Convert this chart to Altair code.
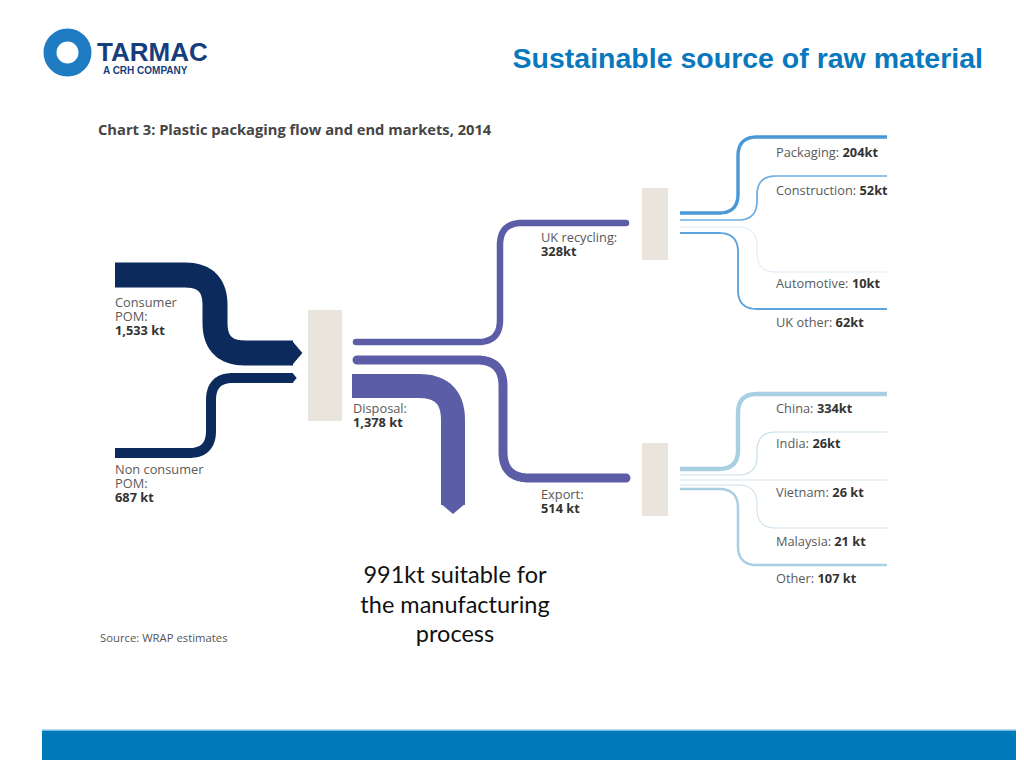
import math
import altair as alt
import numpy as np
import pandas as pd

# ---------------- data ----------------
source_names = ["Consumer POM", "Non consumer POM"]
source_kt = [1533, 687]
source_value_labels = ["1,533 kt", "687 kt"]

stream_names = ["UK recycling", "Export", "Disposal"]
stream_kt = [328, 514, 1378]
stream_value_labels = ["328kt", "514 kt", "1,378 kt"]

uk_market_names = ["Packaging", "Construction", "Automotive", "UK other"]
uk_market_kt = [204, 52, 10, 62]
uk_value_labels = ["204kt", "52kt", "10kt", "62kt"]

export_market_names = ["China", "India", "Vietnam", "Malaysia", "Other"]
export_market_kt = [334, 26, 26, 21, 107]
export_value_labels = ["334kt", "26kt", "26 kt", "21 kt", "107 kt"]

suitable_kt = 991

# ---------------- layout (diagram geometry, page pixels) ----------------
NAVY = "#0d2a5c"
PURPLE = "#5b5ea6"
BEIGE = "#e9e5dc"
LABEL = "#5a5a5a"
BOLD = "#333333"
FONT = "Open Sans"
LSIZE = 12.8

# widths of Open Sans glyphs (units per 2048 em) to place bold value after name
OS_W = {" ": 532, ":": 545, "a": 1139, "b": 1255, "c": 975, "d": 1255, "e": 1149,
        "f": 694, "g": 1122, "h": 1257, "i": 518, "k": 1075, "l": 518, "m": 1905,
        "n": 1257, "o": 1237, "p": 1255, "r": 836, "s": 977, "t": 723, "u": 1257,
        "v": 1026, "y": 1028, "A": 1296, "C": 1292, "I": 586, "K": 1204, "M": 1784,
        "O": 1599, "P": 1219, "U": 1520, "V": 1245}


def text_w(s, size):
    return sum(OS_W.get(ch, 1150) for ch in s) * size / 2048.0


def rounded_path(pts, r, n=16):
    out = [pts[0]]
    for k in range(1, len(pts) - 1):
        ax, ay = pts[k - 1]
        px, py = pts[k]
        bx, by = pts[k + 1]
        l1 = math.hypot(px - ax, py - ay)
        l2 = math.hypot(bx - px, by - py)
        rr = min(r, l1, l2)
        d1 = ((px - ax) / l1, (py - ay) / l1)
        d2 = ((bx - px) / l2, (by - py) / l2)
        p1 = (px - d1[0] * rr, py - d1[1] * rr)
        p2 = (px + d2[0] * rr, py + d2[1] * rr)
        for t in np.linspace(0, 1, n):
            x = (1 - t) ** 2 * p1[0] + 2 * (1 - t) * t * px + t * t * p2[0]
            y = (1 - t) ** 2 * p1[1] + 2 * (1 - t) * t * py + t * t * p2[1]
            out.append((x, y))
    out.append(pts[-1])
    return out


# main flows: route, radius, width, colour
main_routes = {
    "Consumer POM": ([(115, 275), (215, 275), (215, 353), (293, 353)], 30, 25, NAVY),
    "Non consumer POM": ([(115, 453), (211, 453), (211, 378), (293, 378)], 22, 10, NAVY),
    "Disposal": ([(352, 386), (453, 386), (453, 505)], 34, 24, PURPLE),
}
round_routes = {
    "UK recycling": ([(356, 342), (500, 342), (500, 223), (626, 223)], 22, 6.5, PURPLE),
    "Export": ([(357, 360), (503, 360), (503, 478), (626, 478)], 26, 9, PURPLE),
}

FAN_X0, FAN_X1 = 680, 887
uk_fan = {  # start y, vertical x, end y, colour
    "Packaging": (213, 738, 137, "#4a98d6"),
    "Construction": (220, 757, 176, "#6eaee2"),
    "Automotive": (227, 757, 272, "#cfe2f3"),
    "UK other": (233, 738, 309, "#5fa3dc"),
}
export_fan = {
    "China": (469, 738, 394, "#a9cfe3"),
    "India": (475, 757, 432, "#c8dfec"),
    "Vietnam": (480, None, 480, "#d3e6f0"),
    "Malaysia": (485, 757, 528, "#cde2ee"),
    "Other": (489, 738, 565, "#a9cfe3"),
}
uk_label_y = [157, 195, 288, 327]
export_label_y = [413, 448, 497, 546, 583]
LABEL_X = 776


def fan_width(kt):
    return 0.24 * math.sqrt(kt)


butt_rows, round_rows = [], []
for name in source_names + ["Disposal"]:
    pts, r, w, c = main_routes[name]
    for i, (x, y) in enumerate(rounded_path(pts, r)):
        butt_rows.append({"id": name, "i": i, "x": x, "y": y, "w": w, "c": c})
for name in ["UK recycling", "Export"]:
    pts, r, w, c = round_routes[name]
    for i, (x, y) in enumerate(rounded_path(pts, r)):
        round_rows.append({"id": name, "i": i, "x": x, "y": y, "w": w, "c": c})

for names, kts, fan in [(uk_market_names, uk_market_kt, uk_fan),
                        (export_market_names, export_market_kt, export_fan)]:
    for name, kt in zip(names, kts):
        y0, xv, y1, c = fan[name]
        if xv is None:
            pts = [(FAN_X0, y0), (FAN_X1, y1)]
        else:
            pts = [(FAN_X0, y0), (xv, y0), (xv, y1), (FAN_X1, y1)]
        for i, (x, y) in enumerate(rounded_path(pts, 19)):
            butt_rows.append({"id": "fan " + name, "i": i, "x": x, "y": y,
                              "w": fan_width(kt), "c": c})

butt_df = pd.DataFrame(butt_rows)
round_df = pd.DataFrame(round_rows)

XS = alt.Scale(domain=[8, 1016], nice=False, zero=False)
YS = alt.Scale(domain=[8, 760], nice=False, zero=False, reverse=True)


def X(f="x"):
    return alt.X(f"{f}:Q", scale=XS, axis=None)


def Y(f="y"):
    return alt.Y(f"{f}:Q", scale=YS, axis=None)


def line_layer(df, cap):
    return alt.Chart(df).mark_line(strokeCap=cap, strokeJoin="round").encode(
        x=X(), y=Y(), detail="id:N", order="i:Q",
        strokeWidth=alt.StrokeWidth("w:Q", scale=None, legend=None),
        color=alt.Color("c:N", scale=None, legend=None),
    )


# boxes
boxes = pd.DataFrame({
    "x": [308, 642, 642], "x2": [342, 668, 668],
    "y": [310, 188, 443], "y2": [421, 260, 516],
})
box_layer = alt.Chart(boxes).mark_rect(color=BEIGE).encode(
    x=X(), x2="x2:Q", y=Y(), y2="y2:Q")

# bottom band
band = pd.DataFrame({"x": [42, 42], "x2": [1016, 1016], "y": [729.5, 731], "y2": [731, 760],
                     "c": ["#79b8de", "#0079b8"]})
band_layer = alt.Chart(band).mark_rect().encode(
    x=X(), x2="x2:Q", y=Y(), y2="y2:Q", color=alt.Color("c:N", scale=None))

# chevrons
chev_right = pd.DataFrame({"x": [293, 293], "y": [353, 378], "s": [25 ** 2, 10 ** 2]})
chev_down = pd.DataFrame({"x": [453], "y": [505], "s": [24 ** 2]})
chev_r_layer = alt.Chart(chev_right).mark_point(
    filled=True, opacity=1, color=NAVY, shape="M-0.1,-1L0.75,0L-0.1,1Z").encode(
    x=X(), y=Y(), size=alt.Size("s:Q", scale=None))
chev_d_layer = alt.Chart(chev_down).mark_point(
    filled=True, opacity=1, color=PURPLE, shape="M-1,-0.1L0,0.75L1,-0.1Z").encode(
    x=X(), y=Y(), size=alt.Size("s:Q", scale=None))

# logo ring
ring = pd.DataFrame({"x": [67.5], "y": [52.5]})
ring_layer = alt.Chart(ring).mark_point(
    filled=False, opacity=1, color="#1f7cc2", strokeWidth=13, size=35 ** 2, shape="circle"
).encode(x=X(), y=Y())

# ---------------- text ----------------
normal_rows, bold_rows = [], []
normal_rows += [
    {"x": 115, "y": 307, "t": ["Consumer", "POM:"]},
    {"x": 115, "y": 474, "t": ["Non consumer", "POM:"]},
    {"x": 353, "y": 413, "t": ["Disposal:"]},
    {"x": 541, "y": 242, "t": ["UK recycling:"]},
    {"x": 541, "y": 499, "t": ["Export:"]},
]
bold_rows += [
    {"x": 115, "y": 335, "t": source_value_labels[0]},
    {"x": 115, "y": 502, "t": source_value_labels[1]},
    {"x": 353, "y": 427, "t": stream_value_labels[2]},
    {"x": 541, "y": 256, "t": stream_value_labels[0]},
    {"x": 541, "y": 513, "t": stream_value_labels[1]},
]
for names, vals, ys in [(uk_market_names, uk_value_labels, uk_label_y),
                        (export_market_names, export_value_labels, export_label_y)]:
    for name, v, y in zip(names, vals, ys):
        s = name + ": "
        normal_rows.append({"x": LABEL_X, "y": y, "t": [s]})
        bold_rows.append({"x": LABEL_X + text_w(s, LSIZE), "y": y, "t": v})


def text_layer(rows, **kw):
    base = dict(align="left", baseline="alphabetic")
    base.update(kw)
    return alt.Chart(alt.Data(values=rows)).mark_text(**base).encode(
        x=X(), y=Y(), text="t:N")


normal_layer = text_layer(normal_rows, font=FONT, fontSize=LSIZE, color=LABEL, lineHeight=14)
bold_layer = text_layer(bold_rows, font=FONT, fontSize=LSIZE, fontWeight="bold", color=BOLD)

chart_title = text_layer([{"x": 98, "y": 135, "t": "Chart 3: Plastic packaging flow and end markets, 2014"}],
                         font=FONT, fontSize=14.7, fontWeight="bold", color="#454545")
source_layer = text_layer([{"x": 100, "y": 642, "t": "Source: WRAP estimates"}],
                          font=FONT, fontSize=11.3, color="#555555")
note_layer = text_layer([
    {"x": 455, "y": 583, "t": [f"{suitable_kt}kt suitable for", "the manufacturing", "process"]},
], font="Lato", fontSize=23.5, color="#111111", align="center", lineHeight=29.5)
slide_title = text_layer([{"x": 983, "y": 68, "t": "Sustainable source of raw material"}],
                         font="Liberation Sans", fontSize=28.5, fontWeight="bold",
                         color="#0a78bd", align="right")
tarmac = text_layer([{"x": 97, "y": 61, "t": "TARMAC"}],
                    font="Liberation Sans", fontSize=26, fontWeight="bold", color="#173e7c")
crh = text_layer([{"x": 103, "y": 74, "t": "A CRH COMPANY"}],
                 font="Liberation Sans", fontSize=10, fontWeight="bold", color="#173e7c")

chart = alt.layer(
    band_layer, box_layer,
    line_layer(butt_df, "butt"), line_layer(round_df, "round"),
    chev_r_layer, chev_d_layer, ring_layer,
    normal_layer, bold_layer, chart_title, source_layer, note_layer,
    slide_title, tarmac, crh,
).properties(width=1008, height=752, padding=0).configure_view(stroke=None)

chart.save("out.html", embed_options={"renderer": "svg", "actions": False})
